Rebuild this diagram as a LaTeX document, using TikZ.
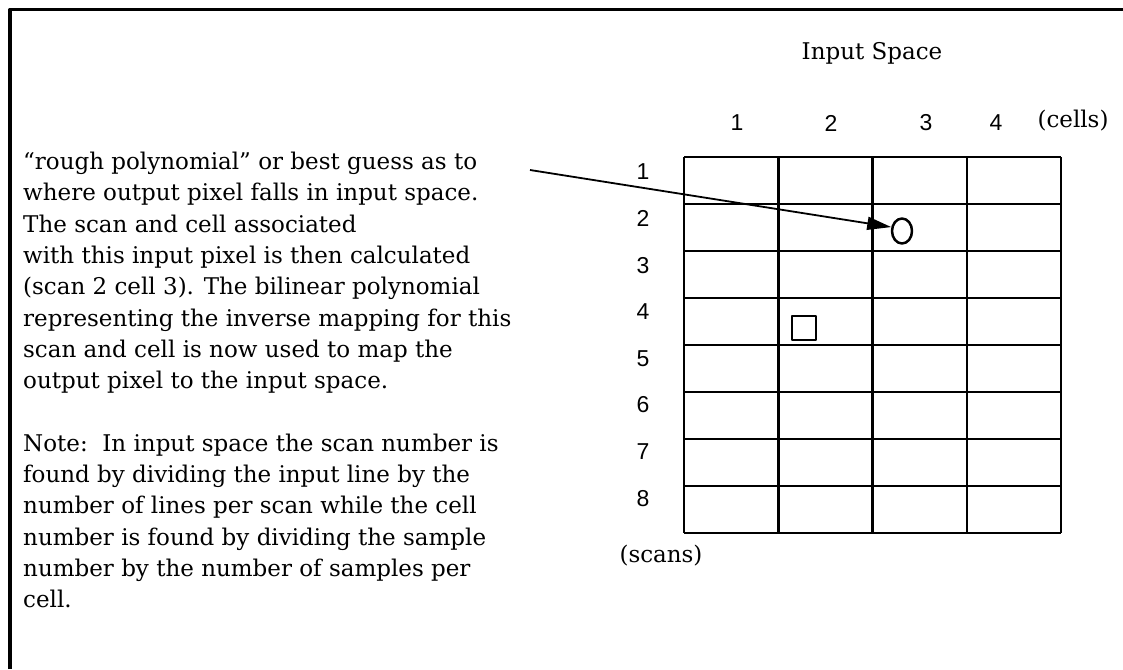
\documentclass[tikz,border=0pt]{standalone}
\usepackage{fontspec}
\setmainfont{DejaVu Serif}
\newfontfamily\numfont{Liberation Sans}
\usetikzlibrary{arrows.meta,shapes.geometric}
\tikzset{
  txt/.style={font=\fontsize{23}{31.3}\selectfont, inner sep=0pt},
  num/.style={font=\numfont\fontsize{23}{26}\selectfont, inner sep=0pt},
  gridline/.style={line width=2.5pt}
}
\begin{document}
\begin{tikzpicture}[x=1pt, y=-1pt, line join=round, >={Triangle[length=24pt,width=13pt]}]
  \useasboundingbox (0,0) rectangle (1123,669);
  % frame
  \draw[line width=3.5pt] (10,669) |- (1123,9.5);
  % grid of scans and cells
  \foreach \r in {0,...,8} \draw[gridline] (684,{157+47*\r}) -- (1061,{157+47*\r});
  \foreach \c in {0,...,4} \draw[gridline] ({684+94.25*\c},157) -- ({684+94.25*\c},533);
  \node[txt] (title) at (872,53) {Input Space};
  \foreach \c/\xx in {1/737,2/831,3/926,4/996} \node[num] (c\c) at (\xx,123) {\c};
  \node[txt] (cells) at (1073,121) {(cells)};
  \foreach \r in {1,...,8} \node[num] (r\r) at (643,{172+46.6*(\r-1)}) {\r};
  \node[txt] (scans) at (661,556) {(scans)};
  % input pixel and output pixel
  \node[draw, line width=2.5pt, minimum size=24pt, inner sep=0pt] (pix) at (804,328) {};
  \node[draw, ellipse, line width=2.5pt, minimum width=20pt, minimum height=25pt, inner sep=0pt] (hit) at (902,231) {};
  % explanation
  \node[txt, anchor=north west, align=left] (expl) at (23,152) {%
    “rough polynomial” or best guess as to\\
    where output pixel falls in input space.\\
    The scan and cell associated\\
    with this input pixel is then calculated\\
    (scan 2 cell 3). The bilinear polynomial\\
    representing the inverse mapping for this\\
    scan and cell is now used to map the\\
    output pixel to the input space.\\[31.3pt]
    Note:\ \ In input space the scan number is\\
    found by dividing the input line by the\\
    number of lines per scan while the cell\\
    number is found by dividing the sample\\
    number by the number of samples per\\
    cell.};
  \coordinate (guess) at (530,170);
  \draw[->, line width=1.8pt] (guess) -- (hit.160);
\end{tikzpicture}
\end{document}
